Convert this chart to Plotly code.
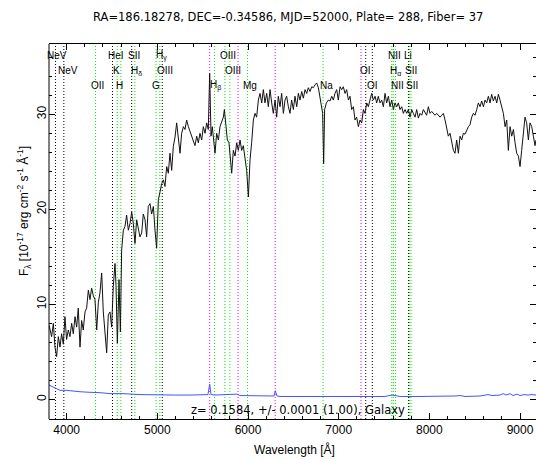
import plotly.graph_objects as go

# ---------------- data ----------------
title_text = "RA=186.18278, DEC=-0.34586, MJD=52000, Plate= 288, Fiber= 37"
z_text = "z= 0.1584, +/- 0.0001 (1.00), Galaxy"
redshift = 0.1584

wave = [3806, 3816, 3834, 3853, 3871, 3889, 3908, 3926, 3944, 3963, 3981, 3999, 4018, 4036, 4055, 4073,
        4092, 4110, 4128, 4147, 4165, 4183, 4202, 4220, 4239, 4257, 4275, 4294, 4312, 4331, 4349, 4367,
        4386, 4404, 4422, 4441, 4459, 4478, 4496, 4514, 4533, 4544, 4559, 4577, 4592, 4606, 4625, 4643,
        4661, 4680, 4698, 4717, 4735, 4753, 4772, 4790, 4808, 4827, 4845, 4864, 4882, 4900, 4919, 4937,
        4956, 4974, 4992, 5011, 5029, 5048, 5066, 5084, 5103, 5121, 5139, 5158, 5176,
        5195, 5213, 5231, 5250, 5268, 5287, 5305, 5323, 5342, 5360, 5378, 5397, 5415, 5434, 5452, 5470,
        5489, 5507, 5526, 5544, 5562, 5577, 5592, 5606, 5625, 5636, 5654, 5673, 5691, 5709, 5728, 5739,
        5754, 5772, 5790, 5809, 5820, 5838, 5857, 5875, 5893, 5912, 5930, 5948, 5967, 5985, 6004, 6022,
        6040, 6059, 6077, 6095, 6114, 6132, 6151, 6169, 6187, 6206, 6224, 6243, 6261, 6279, 6298, 6316,
        6334, 6353, 6371, 6390, 6408, 6426,
        6445, 6463, 6481, 6500, 6518, 6537, 6555, 6573, 6592, 6610, 6629, 6647, 6665, 6684, 6702, 6720,
        6739, 6757, 6776, 6794, 6812, 6823, 6834, 6845, 6864, 6886, 6904, 6923, 6941, 6959, 6978, 6996,
        7015, 7033, 7051, 7070, 7088, 7107, 7125, 7143, 7162, 7180, 7198, 7217, 7235, 7254, 7272, 7290,
        7309, 7327, 7345, 7364, 7382, 7401, 7419, 7437, 7456, 7474, 7493, 7511, 7529, 7548, 7566, 7585,
        7603, 7621, 7640, 7658, 7676, 7695, 7713, 7732, 7750,
        7768, 7787, 7805, 7823, 7842, 7860, 7879, 7897, 7915, 7934, 7952, 7970, 7989, 8007, 8026, 8044,
        8062, 8081, 8099, 8118, 8136, 8154, 8173, 8191, 8209, 8228, 8246, 8265, 8283, 8301, 8320, 8338,
        8357, 8375, 8393, 8412, 8430, 8448, 8467, 8485, 8504, 8522, 8540, 8559, 8577, 8596, 8614, 8632,
        8651, 8669, 8687, 8706, 8724, 8743, 8761, 8779, 8798, 8816, 8835, 8853, 8871, 8890, 8908, 8927,
        8945, 8963, 8982, 9000, 9018, 9037, 9055, 9073, 9092, 9110, 9129, 9147, 9165, 9176]

flux = [7.8, 7.3, 6.6, 8.0, 5.5, 4.5, 6.6, 5.5, 6.9, 5.8, 8.7, 6.3, 7.3, 6.6, 8.0, 6.9,
        8.7, 7.6, 9.6, 5.5, 8.3, 7.3, 9.2, 9.6, 11.5, 10.5, 11.7, 10.9, 10.5, 7.3, 10.2, 11.2,
        13.3, 9.2, 7.3, 4.9, 8.9, 9.2, 7.6, 11.9, 14.3, 12.0, 5.9, 12.6, 7.1, 15.7, 17.8, 18.2,
        19.4, 17.8, 18.5, 19.7, 18.5, 16.4, 18.9, 17.8, 17.1, 17.5, 19.5, 18.9, 17.1, 20.3, 20.6, 19.5,
        20.3, 17.8, 15.9, 21.0, 22.0, 22.7, 23.1, 22.4, 24.5, 23.8, 25.9, 24.1, 26.6,
        27.6, 29.1, 27.3, 25.9, 28.0, 28.7, 28.4, 29.4, 28.7, 28.2, 27.7, 27.1, 26.7, 27.7, 27.0, 28.0,
        27.3, 28.7, 28.0, 29.1, 28.4, 34.3, 27.7, 28.7, 27.3, 25.9, 28.0, 27.3, 28.7, 29.1, 29.7, 30.5,
        28.7, 27.3, 27.0, 25.2, 23.8, 26.2, 25.6, 27.0, 26.2, 27.3, 26.2, 26.7, 25.6, 24.1, 21.3, 25.2,
        27.0, 29.4, 30.1, 29.7, 31.5, 32.2, 31.2, 32.6, 31.2, 32.2, 30.8, 32.6, 31.2, 30.1, 31.5, 29.7,
        31.9, 30.8, 32.2, 30.1, 31.5, 31.9,
        30.8, 30.1, 31.5, 30.5, 31.9, 30.8, 32.2, 31.5, 32.4, 31.7, 32.6, 32.2, 32.8, 32.4, 32.9, 32.8,
        33.1, 33.3, 32.8, 31.9, 30.8, 30.1, 24.8, 30.5, 31.2, 31.5, 31.4, 31.9, 31.5, 32.2, 32.6, 31.5,
        32.9, 32.6, 32.9, 32.2, 32.6, 31.5, 31.9, 30.5, 30.8, 29.4, 29.7, 28.7, 29.4, 29.1, 30.5, 30.1,
        31.2, 30.8, 31.5, 32.2, 31.5, 31.9, 31.2, 31.9, 31.2, 31.5, 30.8, 32.2, 31.2, 31.9, 30.8, 31.5,
        30.5, 31.2, 30.8, 31.2, 30.5, 30.8, 30.1, 30.5, 30.1,
        30.5, 29.7, 30.5, 30.1, 29.7, 30.5, 29.6, 30.1, 29.9, 30.5, 30.1, 29.9, 30.8, 30.1, 30.3, 30.1,
        29.9, 30.1, 29.9, 29.7, 29.9, 30.1, 29.4, 28.3, 27.7, 28.0, 27.0, 26.2, 25.9, 27.3, 25.9, 27.7,
        27.3, 28.0, 27.9, 28.4, 28.7, 28.9, 29.7, 30.1, 29.9, 30.5, 31.2, 30.8, 31.4, 30.8, 31.5, 31.2,
        31.9, 31.2, 32.1, 31.4, 31.9, 31.2, 32.1, 31.5, 30.8, 30.1, 28.7, 29.4, 26.2, 28.7, 27.7, 28.4,
        27.0, 25.9, 25.6, 24.5, 26.2, 28.0, 29.7, 29.1, 27.3, 29.1, 28.7, 27.7, 26.7, 27.3]

err_wave = [3805, 3838, 3882, 3926, 3992, 4069, 4147, 4235, 4312, 4367, 4478, 4621, 4809, 4996, 5195,
            5360, 5525, 5558, 5577, 5592, 5636, 5746, 5878, 5911, 6077, 6265, 6287, 6300, 6320, 6353,
            6574, 6905, 7125, 7235, 7346, 7511, 7588, 7632, 7677, 7897, 8118, 8283, 8338, 8393, 8559,
            8647, 8691, 8780, 8813, 8846, 8890, 8923, 8967, 9000, 9044, 9088, 9132, 9176]
err_flux = [1.5, 1.35, 1.1, 0.95, 0.95, 0.85, 0.8, 0.75, 0.75, 0.7, 0.6, 0.6, 0.5, 0.45, 0.45,
            0.45, 0.45, 0.5, 1.6, 0.5, 0.45, 0.5, 0.55, 0.4, 0.35, 0.3, 0.35, 0.9, 0.35, 0.3,
            0.3, 0.3, 0.3, 0.25, 0.25, 0.3, 0.45, 0.4, 0.3, 0.3, 0.3, 0.35, 0.4, 0.3, 0.35,
            0.5, 0.4, 0.45, 0.6, 0.45, 0.6, 0.4, 0.55, 0.4, 0.5, 0.45, 0.5, 0.45]

line_names = ["NeV", "NeV", "OII", "HeI", "K", "H", "SII", "H<sub>δ</sub>", "G", "H<sub>γ</sub>", "OIII",
              "H<sub>β</sub>", "OIII", "OIII", "Mg", "Na", "OI", "OI", "NII", "H<sub>α</sub>", "NII",
              "Li", "SII", "SII"]
line_rest = [3346, 3426, 3727, 3889, 3934, 3969, 4072, 4102, 4304, 4340, 4363,
             4861, 4959, 5007, 5175, 5894, 6300, 6363, 6548, 6563, 6583,
             6707, 6716, 6731]
line_type = ["other", "other", "em", "other", "em", "em", "other", "em", "em", "em", "other",
             "em", "em", "em", "em", "em", "other", "other", "em", "em", "em",
             "other", "em", "em"]
sky_lines = [5577, 5890, 6300, 7246]

# ---------------- style / layout ----------------
label_row = [1, 2, 3, 1, 2, 3, 1, 2, 3, 1, 2, 3, 1, 2, 3, 3, 2, 3, 1, 2, 3, 1, 2, 3]
label_dx = [2, 4, 2, 4, -1, -1, 2, 2, 0, 2, 3, 1, 3, 3, 2, 3, 0, 0, 3, 2, 2, 0, 2, 1]
row_y = {1: 36.2, 2: 34.6, 3: 33.0}
type_color = {"em": "#00ee00", "other": "#000000"}
SKY_COLOR = "#ff00ff"
FONT = "Liberation Sans, Arial, Helvetica, sans-serif"
WIDE_FONT = "DejaVu Sans, Verdana, sans-serif"

W, H = 536, 460
ML, MR, MT, MB = 49, 0, 44, 41
PW, PH = W - ML - MR, H - MT - MB


def px_x(px):
    return (px - ML) / PW


def px_y(py):
    return (H - MB - py) / PH


fig = go.Figure()

shapes = []
for rest, typ in zip(line_rest, line_type):
    obs = rest * (1 + redshift)
    shapes.append(dict(type="line", xref="x", yref="paper", x0=obs, x1=obs, y0=0, y1=1,
                       line=dict(color=type_color[typ], width=1, dash="1px,2px"), layer="below"))
for s in sky_lines:
    shapes.append(dict(type="line", xref="x", yref="paper", x0=s, x1=s, y0=0, y1=1,
                       line=dict(color=SKY_COLOR, width=1, dash="1px,2px"), layer="below"))
# left axis line
shapes.append(dict(type="line", xref="paper", yref="paper", x0=0, x1=0, y0=0, y1=1,
                   line=dict(color="black", width=1)))

fig.add_trace(go.Scatter(x=wave, y=flux, mode="lines", line=dict(color="#111111", width=1),
                         showlegend=False, hoverinfo="skip"))
fig.add_trace(go.Scatter(x=err_wave, y=err_flux, mode="lines", line=dict(color="#4455ff", width=1),
                         showlegend=False, hoverinfo="skip"))

annotations = []
for name, rest, row, dx in zip(line_names, line_rest, label_row, label_dx):
    annotations.append(dict(x=rest * (1 + redshift), y=row_y[row], xref="x", yref="y",
                            text=name, showarrow=False, xshift=dx, xanchor="center", yanchor="middle",
                            font=dict(size=10, color="black", family=FONT)))

annotations += [
    dict(x=px_x(288), y=px_y(17), xref="paper", yref="paper", text=title_text, showarrow=False,
         xanchor="center", yanchor="middle", font=dict(size=11.5, color="black", family=WIDE_FONT)),
    dict(x=px_x(298), y=px_y(410), xref="paper", yref="paper", text=z_text, showarrow=False,
         xanchor="center", yanchor="middle", font=dict(size=11.5, color="black", family=WIDE_FONT)),
    dict(x=px_x(294), y=px_y(449), xref="paper", yref="paper", text="Wavelength [Å]", showarrow=False,
         xanchor="center", yanchor="middle", font=dict(size=12, color="black", family=FONT)),
    dict(x=px_x(24), y=px_y(211), xref="paper", yref="paper", textangle=-90,
         text="F<sub>λ</sub> [10<sup>-17</sup> erg cm<sup>-2</sup> s<sup>-1</sup> Å<sup>-1</sup>]",
         showarrow=False, xanchor="center", yanchor="middle",
         font=dict(size=12, color="black", family=FONT)),
]

fig.update_layout(
    width=W, height=H,
    margin=dict(l=ML, r=MR, t=MT, b=MB, pad=0),
    paper_bgcolor="white", plot_bgcolor="white",
    font=dict(family=FONT, size=12, color="black"),
    shapes=shapes, annotations=annotations,
    showlegend=False,
)
fig.update_xaxes(range=[3805, 9176], showgrid=False, zeroline=False,
                 showline=True, linecolor="black", linewidth=1, mirror="ticks",
                 ticks="inside", ticklen=6, tickcolor="black", tickwidth=1,
                 tickvals=[4000, 5000, 6000, 7000, 8000, 9000],
                 minor=dict(dtick=200, tick0=4000, ticks="inside", ticklen=3, tickcolor="black", showgrid=False),
                 tickfont=dict(size=12, color="black", family=FONT))
fig.update_yaxes(range=[-2.07, 37.4], showgrid=False, zeroline=False,
                 showline=False, mirror="ticks",
                 ticks="inside", ticklen=6, tickcolor="black", tickwidth=1,
                 tickvals=[0, 10, 20, 30], tickangle=-90,
                 minor=dict(dtick=2, tick0=0, ticks="inside", ticklen=3, tickcolor="black", showgrid=False),
                 tickfont=dict(size=12, color="black", family=FONT))

fig.write_html("out.html", config={"displayModeBar": False, "staticPlot": True},
               post_script="document.body.style.margin='0';document.body.style.padding='0';")
